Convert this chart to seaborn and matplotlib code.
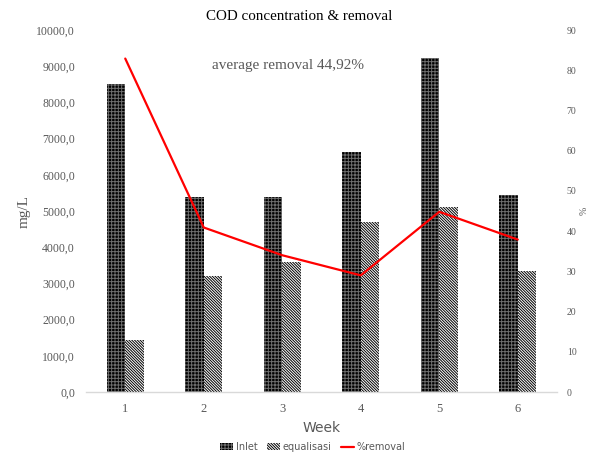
import numpy as np
import pandas as pd
import matplotlib
matplotlib.use("Agg")
import matplotlib.pyplot as plt
import seaborn as sns
from matplotlib.patches import Patch
from matplotlib.lines import Line2D

weeks = ["1", "2", "3", "4", "5", "6"]
inlet = [8500, 5400, 5400, 6630, 9230, 5440]
equalisasi = [1430, 3200, 3600, 4700, 5100, 3350]
removal = [82.9, 40.9, 34.0, 29.0, 44.8, 37.9]
left_ticks = [0, 1000, 2000, 3000, 4000, 5000, 6000, 7000, 8000, 9000, 10000]
right_ticks = [0, 10, 20, 30, 40, 50, 60, 70, 80, 90]

sns.set_theme(style="white")
plt.rcParams["hatch.linewidth"] = 0.7

df = pd.DataFrame({
    "Week": weeks * 2,
    "value": inlet + equalisasi,
    "series": ["Inlet"] * 6 + ["equalisasi"] * 6,
})

fig = plt.figure(figsize=(5.9, 4.53), dpi=100)
ax = fig.add_axes([86 / 590, 1 - 392 / 453, 471 / 590, 362 / 453])

sns.barplot(data=df, x="Week", y="value", hue="series", ax=ax,
            width=0.47, gap=0, legend=False,
            palette={"Inlet": "black", "equalisasi": "white"})

grey = "#595959"
inlet_hatch = "+++++"
equ_hatch = "\\" * 12
n = len(weeks)
for i, bar in enumerate(ax.patches[:2 * n]):
    bar.set_linewidth(0)
    if i < n:
        bar.set_facecolor("black")
        bar.set_edgecolor("#6e6e6e")
        bar.set_hatch(inlet_hatch)
    else:
        bar.set_facecolor("white")
        bar.set_edgecolor("black")
        bar.set_hatch(equ_hatch)

ax.set_ylim(0, 10000)
ax.set_yticks(left_ticks)
ax.set_yticklabels([f"{v:.1f}".replace(".", ",") for v in left_ticks],
                   family="Liberation Serif", fontsize=8.5, color=grey)
ax.set_xlim(-0.5, n - 0.5)
ax.set_xticks(range(n))
ax.set_xticklabels(weeks, family="Liberation Serif", fontsize=9, color=grey)
ax.tick_params(axis="y", length=0, pad=8)
ax.tick_params(axis="x", length=0, pad=8)
for s in ["top", "right", "left"]:
    ax.spines[s].set_visible(False)
ax.spines["bottom"].set_color("#d9d9d9")
ax.spines["bottom"].set_linewidth(1)
ax.set_xlabel("Week", family="DejaVu Sans", fontsize=10, color=grey, labelpad=4)
ax.set_ylabel("mg/L", family="Liberation Serif", fontsize=11, color=grey, labelpad=4)

ax2 = ax.twinx()
sns.pointplot(x=weeks, y=removal, ax=ax2, color="#ff0000", marker="",
              linewidth=1.6, errorbar=None)
ax2.set_xlim(-0.5, n - 0.5)
ax2.set_ylim(0, 90)
ax2.set_yticks(right_ticks)
ax2.set_yticklabels([str(v) for v in right_ticks], family="Liberation Serif",
                    fontsize=7, color=grey)
ax2.tick_params(axis="y", length=0, pad=7)
for s in ["top", "right", "left", "bottom"]:
    ax2.spines[s].set_visible(False)
ax2.set_ylabel("%", family="Liberation Serif", fontsize=7, color=grey, labelpad=2)

fig.text(299 / 590, 1 - 17 / 453, "COD concentration & removal",
         ha="center", va="center", family="Liberation Serif", fontsize=10.8,
         color="black")
avg = np.mean(removal)
fig.text(288 / 590, 1 - 66 / 453,
         "average removal " + f"{avg:.2f}".replace(".", ",") + "%",
         ha="center", va="center", family="Liberation Serif", fontsize=11,
         color=grey)

handles = [
    Patch(facecolor="black", edgecolor="#6e6e6e", hatch=inlet_hatch, linewidth=0),
    Patch(facecolor="white", edgecolor="black", hatch=equ_hatch, linewidth=0),
    Line2D([0], [0], color="#ff0000", linewidth=1.6),
]
fig.legend(handles, ["Inlet", "equalisasi", "%removal"], loc="center",
           bbox_to_anchor=(313 / 590, 1 - 447 / 453), ncol=3, frameon=False,
           prop={"family": "DejaVu Sans", "size": 7}, labelcolor=grey,
           handlelength=1.3, handleheight=0.6, handletextpad=0.3,
           columnspacing=1.0)

fig.savefig("out.png", dpi=100)
